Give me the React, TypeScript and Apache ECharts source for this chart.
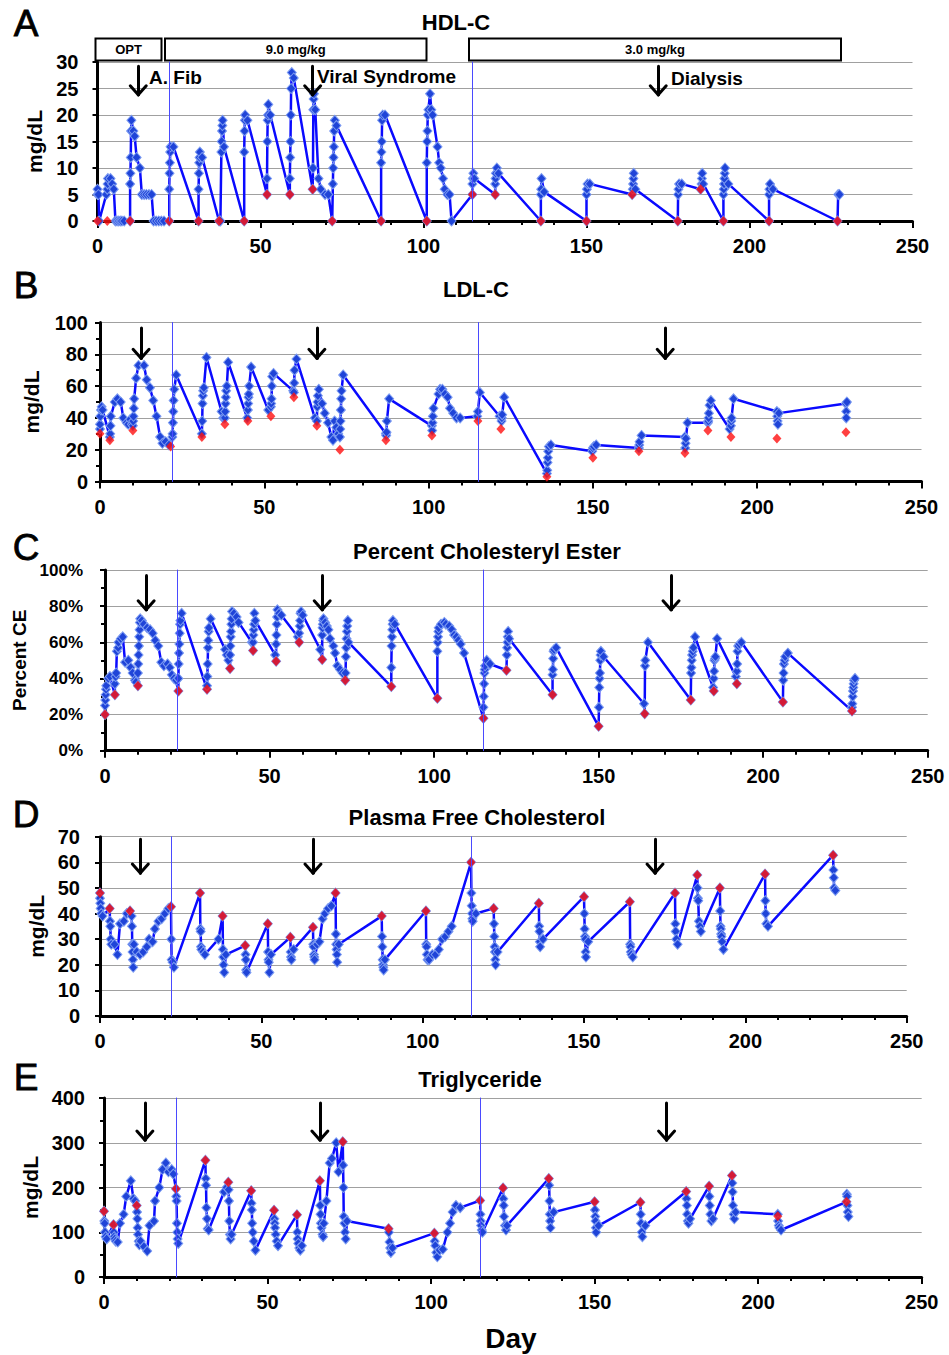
import React, { useEffect, useRef } from "react";
import * as echarts from "echarts";

// ---------- DATA ----------
const doseChangeDays = [22, 115];
const eventArrowDays = [12.5, 66, 172];

// Panel A: HDL-C (mg/dL)
const hdlLine: number[][] = [
  [0, 5], [0, 6], [0.3, 5], [0.5, 0], [2.7, 5], [3, 6], [3.1, 7], [3.2, 8], [4, 8], [4.5, 7], [5, 6], [5.5, 0], [6, 0], [6.5, 0], [7, 0], [7.5, 0], [8.2, 0],
  [10, 0], [10, 7], [10.1, 9], [10.2, 12], [10.3, 17], [10.4, 19], [11, 17], [11.4, 16], [12, 12], [13, 10], [13.6, 5], [14.3, 5], [15, 5], [15.8, 5], [16.6, 5], [17.2, 0], [18, 0], [18.8, 0], [19.6, 0], [20.4, 0],
  [22, 0], [22, 6], [22.1, 9], [22.2, 11], [22.3, 13], [22.4, 14], [23.3, 14],
  [31, 0], [31, 6], [31.1, 9], [31.2, 11], [31.3, 12], [31.4, 13], [32.1, 12],
  [37.3, 0], [37.7, 0], [38, 13], [38.1, 15], [38.2, 17], [38.3, 18], [38.4, 19], [38.8, 14],
  [45, 0], [45, 13], [45.1, 17], [45.2, 19], [45.3, 20], [46, 19],
  [52, 5], [52, 8], [52.1, 15], [52.2, 19], [52.3, 20], [52.4, 22], [53, 20],
  [59, 5], [59, 8], [59.1, 12], [59.2, 15], [59.3, 20], [59.4, 25], [59.6, 28], [60.2, 27],
  [66, 6], [66.1, 10], [66.2, 21], [66.3, 23], [66.4, 24], [66.8, 21], [67.8, 8], [68.5, 6], [69.8, 5], [70.8, 5],
  [72, 0], [72.2, 7], [72.3, 10], [72.4, 12], [72.5, 14], [72.6, 17], [72.8, 19], [73.3, 18],
  [87, 0], [87, 11], [87.1, 13], [87.2, 15], [87.3, 19], [87.5, 20], [88.2, 20],
  [101, 0], [101, 11], [101.1, 15], [101.2, 17], [101.3, 20], [101.5, 21], [102, 24], [102.4, 21], [102.8, 20], [104.3, 14], [104.8, 11], [105.3, 10], [106, 8], [106.5, 6], [107.3, 5], [108, 5], [108.6, 0],
  [115, 5], [115, 7], [115.1, 8], [115.3, 9], [115.6, 8],
  [122, 5], [122, 7], [122.1, 8], [122.2, 9], [122.5, 10], [123, 9],
  [136, 0], [136, 5], [136.1, 6], [136.2, 8], [137, 5.5],
  [150, 0], [150, 5], [150.1, 6], [150.3, 7], [151, 7],
  [164, 5], [164.2, 6], [164.3, 7], [164.4, 8], [164.5, 9], [165, 6],
  [178, 0], [178.1, 5], [178.2, 6], [178.4, 7], [179.2, 7],
  [185, 6], [185.3, 7], [185.4, 8], [185.5, 9], [185.8, 7],
  [192, 0], [192, 5], [192.1, 6], [192.2, 7], [192.3, 8], [192.4, 9], [192.5, 10], [193.5, 7],
  [206, 0], [206, 5], [206.1, 6], [206.3, 7], [207.2, 6],
  [227, 0], [227.2, 5], [227.6, 5],
];
const hdlPredose: number[][] = [
  [0, 0], [3, 0], [10, 0], [22, 0], [31, 0], [37.3, 0], [45, 0], [52, 5], [59, 5], [66, 6], [72, 0], [87, 0], [101, 0],
  [115, 5], [122, 5], [136, 0], [150, 0], [164, 5], [178, 0], [185, 6], [192, 0], [206, 0], [227, 0],
];

// Panel B: LDL-C (mg/dL)
const ldlLine: number[][] = [
  [0, 33], [0, 36], [0.1, 41], [0.3, 45], [0.5, 47], [0.8, 45], [3, 28], [3.1, 30], [3.2, 35], [3.3, 41], [4.5, 50], [5.3, 52], [6.3, 50], [7.1, 40], [8.1, 37], [8.6, 36], [9.2, 39], [9.7, 36],
  [10, 35], [10.1, 38], [10.2, 41], [10.3, 46], [10.4, 52], [11, 65], [11.7, 73], [13.4, 73], [14.2, 64], [15.2, 59], [16.2, 51], [17.2, 41], [18.3, 28], [19, 24], [20, 25], [21, 23],
  [22, 28], [22.1, 30], [22.2, 37], [22.3, 44], [22.4, 51], [22.6, 58], [23.2, 67],
  [31, 30], [31.1, 38], [31.2, 49], [31.3, 54], [31.4, 57], [31.6, 59], [32.4, 78],
  [37, 44], [37.5, 40], [38, 40], [38.1, 44], [38.2, 49], [38.3, 53], [38.4, 57], [38.6, 60], [39, 75],
  [44.8, 40], [45, 45], [45.1, 49], [45.2, 53], [45.3, 55], [45.4, 60], [46, 72],
  [51.2, 45], [52, 47], [52.1, 49], [52.2, 52], [52.3, 60], [52.4, 66], [52.8, 68],
  [58.8, 57], [59, 56], [59.1, 62], [59.2, 70], [59.8, 77],
  [65.4, 40], [66, 38], [66.1, 47], [66.2, 50], [66.3, 54], [66.6, 58], [67.6, 49], [68.4, 43], [69.4, 37], [70.4, 28], [70.9, 26], [71.4, 38], [71.9, 34], [72.5, 30],
  [73, 28], [73.1, 33], [73.2, 38], [73.3, 45], [73.4, 52], [73.5, 57], [74, 67],
  [87, 30], [87.1, 29], [87.2, 31], [87.3, 38], [88, 52],
  [101, 35], [101.1, 32], [101.2, 37], [101.3, 41], [101.5, 46], [103, 55], [103.5, 58], [104.2, 58], [105, 55], [105.8, 53], [106.5, 46], [107.5, 43], [108.5, 40], [109.6, 40],
  [114.8, 41], [115, 44], [115.6, 56],
  [121.6, 41], [122.2, 38], [122.3, 40], [122.4, 42], [123, 53],
  [136, 5], [136.1, 7], [136.2, 12], [136.3, 15], [136.4, 19], [136.6, 22], [137.2, 23],
  [149.8, 19], [150, 21], [150.3, 22], [151, 23],
  [164, 21], [164.1, 23], [164.2, 25], [164.8, 29],
  [178, 28], [178.1, 21], [178.2, 24], [178.3, 27], [178.8, 37],
  [185, 37], [185.1, 38], [185.2, 40], [185.3, 43], [185.5, 48], [185.9, 51],
  [191.6, 33], [192, 35], [192.1, 38], [192.2, 40], [192.8, 52],
  [206, 44], [206.1, 41], [206.2, 38], [206.3, 36], [206.6, 43],
  [227, 49], [227.3, 50], [227.1, 44], [227.1, 40],
];
const ldlPredose: number[][] = [
  [0, 30], [3, 26], [10, 32], [21.5, 22], [31, 28], [38, 36], [45, 38], [52, 41], [59, 53], [66, 35], [73, 20], [87, 26], [101, 29],
  [115, 38], [122, 33], [136, 3], [150, 15], [164, 19], [178, 18], [185, 32], [192, 28], [206, 27], [227, 31],
];

// Panel C: Percent cholesteryl ester (%)
const ceLine: number[][] = [
  [0, 20], [0, 25], [0.1, 28], [0.2, 31], [0.3, 34], [0.4, 36], [1, 40], [1.5, 41],
  [3, 31], [3, 37], [3.2, 41], [3.4, 43], [3.6, 55], [4, 57], [4.1, 60], [4.8, 62], [5.4, 63], [6.1, 49], [7.1, 50], [7.8, 46], [8.4, 43], [9.1, 39], [9.4, 38],
  [10, 36], [10, 43], [10.1, 48], [10.2, 53], [10.3, 58], [10.4, 63], [10.5, 67], [10.6, 71], [10.7, 73], [11.2, 72], [11.8, 70], [12.8, 68], [13.7, 67], [14.5, 65], [15.3, 61], [16.2, 58], [17.1, 49], [17.9, 47], [19, 48], [19.7, 46], [20.3, 42], [21, 40], [21.6, 39],
  [22.3, 33], [22.3, 40], [22.4, 48], [22.5, 54], [22.6, 59], [22.7, 65], [22.8, 70], [22.9, 72], [23.3, 76],
  [31, 34], [31, 36], [31.1, 41], [31.2, 48], [31.3, 57], [31.4, 61], [31.5, 66], [31.6, 68], [32.1, 73],
  [36.5, 56], [37, 53], [37.5, 50], [38, 45.5], [38, 53], [38.1, 58], [38.2, 63], [38.3, 66], [38.4, 70], [38.5, 73], [38.6, 77], [39.2, 76], [40, 74], [40.6, 71],
  [44.6, 60], [45, 55.5], [45, 60], [45.1, 64], [45.2, 67], [45.3, 70], [45.4, 76], [45.7, 72],
  [51.7, 53], [52, 49.5], [52, 59], [52.1, 64], [52.2, 70], [52.3, 74], [52.4, 78], [52.9, 76], [53.6, 75],
  [58.6, 63], [59, 60], [59, 65], [59.2, 69], [59.3, 72], [59.4, 76], [59.6, 77], [60.1, 75],
  [65.4, 56], [66, 50.5], [66, 64], [66.1, 68], [66.2, 70], [66.3, 72], [66.4, 73], [66.9, 71], [67.4, 69], [67.9, 67], [68.4, 62], [69.4, 58], [69.9, 54], [70.6, 47], [71.4, 45], [72.2, 43],
  [73, 39], [73.1, 43], [73.2, 52], [73.3, 57], [73.4, 62], [73.5, 66], [73.6, 69], [73.8, 72], [74, 60],
  [87, 35.5], [87, 46], [87.1, 58], [87.2, 63], [87.3, 67], [87.4, 70], [87.5, 72], [88.1, 70],
  [101, 29], [101, 55], [101.1, 60], [101.2, 63], [101.3, 66], [101.4, 68], [102.1, 70], [103.1, 71], [103.6, 70], [104.6, 69], [105.4, 67], [106.1, 64], [106.8, 63], [107.4, 61], [108.1, 59], [109.1, 54],
  [115, 18], [115, 24], [115.1, 30], [115.2, 37], [115.3, 43], [115.4, 45], [115.5, 47], [116, 50], [117, 48],
  [122, 44.5], [122.1, 53], [122.2, 57], [122.3, 60], [122.4, 63], [122.5, 66], [122.8, 62],
  [136, 31], [136, 42], [136.1, 45], [136.2, 51], [136.3, 55], [136.5, 56], [137.1, 57],
  [150, 13.5], [150.1, 24], [150.2, 35], [150.3, 40], [150.4, 43], [150.5, 50], [150.6, 53], [150.7, 55], [151.5, 52],
  [163.8, 26], [164, 20.5], [164.1, 47], [164.2, 50], [165, 60],
  [178, 28], [178.1, 43], [178.2, 46], [178.3, 50], [178.4, 53], [178.6, 55], [178.8, 57], [179.3, 63],
  [184.8, 35], [185, 33], [185, 40], [185.1, 44], [185.2, 50], [185.4, 51], [185.5, 52], [186, 62],
  [191.7, 41], [192, 37], [192, 44], [192.1, 48], [192.2, 55], [192.4, 58], [192.8, 59], [193.4, 60],
  [206, 27], [206.1, 39], [206.2, 43], [206.3, 48], [206.5, 50], [206.7, 52], [207.5, 54],
  [227, 22], [227, 24], [227.1, 26], [227.2, 30], [227.3, 33], [227.4, 35], [227.5, 37], [227.6, 39], [227.9, 40],
];
const cePredose: number[][] = [
  [0, 20], [3, 31], [10, 36], [22.3, 33], [31, 34], [38, 45.5], [45, 55.5], [52, 49.5], [59, 60], [66, 50.5], [73, 39], [87, 35.5], [101, 29],
  [115, 18], [122, 44.5], [136, 31], [150, 13.5], [164, 20.5], [178, 28], [185, 33], [192, 37], [206, 27], [227, 22],
];

// Panel D: Plasma free cholesterol (mg/dL)
const fcLine: number[][] = [
  [0, 48], [0, 46], [0.1, 44], [0.2, 42], [0.4, 40], [0.8, 39], [3, 42], [3.1, 37], [3.2, 35], [3.3, 30], [3.5, 28], [4.5, 28], [5.4, 24], [6.2, 36], [7.4, 37], [8.3, 40],
  [9.3, 41], [9.8, 39], [9.9, 35], [10, 28], [10.1, 25], [10.2, 22], [10.3, 19], [10.5, 28], [11.4, 25], [12.4, 24], [13.4, 25], [14.5, 27], [15.2, 30], [16.3, 29], [17, 34], [18.1, 37], [19.1, 38], [20.1, 40], [21.2, 42],
  [22, 42.7], [22.1, 30], [22.2, 22], [22.5, 21], [22.9, 19],
  [31, 48], [31.1, 34], [31.2, 33], [31.3, 27], [31.4, 26], [32, 25], [32.5, 24], [36.7, 30],
  [38, 39], [38.1, 26], [38.2, 23], [38.3, 20], [38.5, 17], [39, 24],
  [45, 27.5], [45.1, 24], [45.2, 22], [45.3, 18], [45.4, 17],
  [52, 36], [52.1, 25], [52.2, 22], [52.3, 21], [52.5, 17], [53, 24],
  [59, 30.7], [59.1, 25], [59.2, 23], [59.3, 22], [60, 26],
  [66, 34.6], [66.1, 28], [66.2, 27], [66.3, 24], [66.4, 23], [66.5, 22], [67.3, 28], [68, 29], [69, 38], [69.7, 40], [70.7, 42], [71.7, 43],
  [73, 48], [73.1, 32], [73.2, 28], [73.3, 26], [73.4, 24], [73.5, 21], [74, 28],
  [87.3, 39], [87.4, 31], [87.5, 27], [87.6, 22], [87.7, 20], [87.8, 19], [87.9, 18], [88.3, 22],
  [101, 41], [101.1, 28], [101.2, 27], [101.3, 24], [101.5, 22], [102, 22], [103, 24], [104, 24], [105, 26], [106, 30], [107, 31], [108, 33], [109, 35],
  [115, 60], [115.1, 48], [115.2, 43], [115.3, 40], [115.4, 38], [115.5, 37], [116.5, 40],
  [122, 42], [122.1, 36], [122.2, 31], [122.3, 27], [122.4, 25], [122.5, 22], [122.6, 20], [123.2, 25],
  [136, 44], [136.1, 35], [136.2, 33], [136.3, 29], [136.4, 27], [137.3, 30],
  [150, 46.6], [150.1, 40], [150.2, 34], [150.3, 31], [150.4, 30], [150.5, 25], [150.6, 23], [151.3, 29],
  [164.2, 44.6], [164.3, 28], [164.4, 27], [164.5, 25], [164.7, 24], [165.1, 23],
  [178.2, 48], [178.3, 36], [178.4, 33], [178.6, 30], [179, 28],
  [185.1, 55], [185.2, 50], [185.3, 46], [185.4, 45], [185.6, 37], [185.9, 35], [186.2, 33],
  [192.1, 50], [192.2, 41], [192.3, 35], [192.4, 34], [192.5, 32], [192.6, 31], [192.8, 29], [193.2, 26],
  [206.1, 55.4], [206.2, 45], [206.3, 40], [206.5, 36], [207, 35],
  [227.2, 62.8], [227.3, 57], [227.4, 54], [227.5, 50], [227.9, 49],
];
const fcPredose: number[][] = [
  [0, 48], [3, 42], [9.3, 41], [22, 42.7], [31, 48], [38, 39], [45, 27.5], [52, 36], [59, 30.7], [66, 34.6], [73, 48], [87.3, 39], [101, 41],
  [115, 60], [122, 42], [136, 44], [150, 46.6], [164.2, 44.6], [178.2, 48], [185.1, 55], [192.1, 50], [206.1, 55.4], [227.2, 62.8],
];

// Panel E: Triglyceride (mg/dL)
const tgLine: number[][] = [
  [0, 147], [0.1, 125], [0.2, 120], [0.3, 100], [0.5, 90], [0.8, 85], [2.9, 117], [3, 100], [3.1, 90], [3.3, 85], [3.6, 80], [4.2, 78], [4.9, 120], [6, 140], [6.8, 180], [8.2, 215], [9, 175], [9.5, 170],
  [10, 160], [10.1, 145], [10.2, 130], [10.3, 110], [10.4, 95], [10.6, 80], [10.8, 72], [11.2, 80], [12.2, 68], [13.2, 58], [13.9, 115], [15.3, 125], [15.6, 170], [16.9, 200], [17.9, 240], [18.9, 255], [19.7, 235], [20.7, 240], [21.2, 230],
  [22, 197], [22.1, 180], [22.2, 170], [22.3, 120], [22.4, 100], [22.5, 85], [22.7, 75],
  [31, 261], [31.1, 220], [31.2, 205], [31.3, 155], [31.5, 130], [31.7, 108], [32, 105],
  [36.7, 190], [37.5, 200], [38, 212], [38.1, 195], [38.2, 170], [38.3, 125], [38.5, 95], [38.7, 85], [39, 95],
  [45, 193], [45.1, 165], [45.2, 150], [45.3, 120], [45.5, 100], [45.8, 80], [46.3, 60],
  [52, 149], [52.1, 130], [52.2, 120], [52.3, 110], [52.5, 95], [52.8, 80], [53.2, 70],
  [59, 139], [59.1, 100], [59.2, 85], [59.4, 75], [59.7, 65], [60, 60], [60.5, 70],
  [66, 215], [66.1, 160], [66.2, 140], [66.3, 120], [66.5, 110], [66.8, 95], [67, 90], [67.2, 120], [68, 170], [69, 255], [69.7, 265], [71, 300], [71.7, 235],
  [73, 302], [73.1, 250], [73.2, 200], [73.3, 135], [73.5, 120], [73.7, 100], [73.9, 85], [74.3, 125],
  [87, 108], [87.1, 100], [87.3, 78], [87.5, 65], [87.7, 55], [88.2, 65],
  [101, 98], [101.1, 80], [101.3, 70], [101.6, 55], [101.9, 45], [102.6, 60], [103.6, 62], [105, 100], [105.8, 120], [106.6, 145], [107.6, 160], [108.9, 155],
  [115, 171], [115.1, 140], [115.2, 125], [115.3, 115], [115.5, 105], [115.7, 100],
  [122, 199], [122.1, 175], [122.2, 160], [122.3, 135], [122.6, 115], [122.9, 105], [123.2, 115],
  [136, 220], [136.1, 205], [136.2, 170], [136.3, 140], [136.4, 125], [136.5, 110], [137.5, 145],
  [150, 168], [150.1, 150], [150.2, 135], [150.3, 125], [150.4, 110], [150.5, 100], [151.2, 115],
  [164, 167], [164.1, 140], [164.2, 120], [164.4, 100], [164.6, 90], [165.5, 115],
  [178, 191], [178.1, 175], [178.2, 160], [178.3, 140], [178.5, 125], [178.7, 120], [179.2, 130],
  [185, 203], [185.1, 180], [185.2, 160], [185.4, 140], [185.7, 125], [186.2, 130],
  [192, 227], [192.1, 210], [192.2, 190], [192.3, 160], [192.5, 140], [192.7, 130], [193.1, 145],
  [206, 140], [206.1, 125], [206.3, 115], [206.5, 110], [207, 105],
  [227, 168], [227.1, 185], [227.2, 180], [227.3, 160], [227.4, 145], [227.6, 135],
];
const tgPredose: number[][] = [
  [0, 147], [2.9, 117], [10, 160], [22, 197], [31, 261], [38, 212], [45, 193], [52, 149], [59, 139], [66, 215], [73, 302], [87, 108], [101, 98],
  [115, 171], [122, 199], [136, 220], [150, 168], [164, 167], [178, 191], [185, 203], [192, 227], [206, 136], [227, 168],
];

const xTicks = { min: 0, max: 250, interval: 50 };

// ---------- CHART ----------
const FONT = "'Liberation Sans', Arial, Helvetica, sans-serif";

const panels = [
  { letter: "A", title: "HDL-C", line: hdlLine, red: hdlPredose, yMax: 30, yInt: 5, yMinor: 0, yName: "mg/dL", pct: false,
    left: 97.5, top: 62, width: 815, height: 159, titleX: 456, titleY: 22, letterY: 23, nameGap: 45, nameSize: 21, yLabelMargin: 19, yLabelSize: 20, arrowTop: 29.2, arrowTip: 23.8 },
  { letter: "B", title: "LDL-C", line: ldlLine, red: ldlPredose, yMax: 100, yInt: 20, yMinor: 2, yName: "mg/dL", pct: false,
    left: 100, top: 322.5, width: 821.5, height: 159, titleX: 476, titleY: 289, letterY: 285, nameGap: 58, nameSize: 21, yLabelMargin: 12, yLabelSize: 20, arrowTop: 96.5, arrowTip: 77.5 },
  { letter: "C", title: "Percent Cholesteryl Ester", line: ceLine, red: cePredose, yMax: 100, yInt: 20, yMinor: 2, yName: "Percent CE", pct: true,
    left: 105, top: 570, width: 822.7, height: 180.7, titleX: 487, titleY: 551, letterY: 547, nameGap: 64, nameSize: 19, yLabelMargin: 22, yLabelSize: 17, arrowTop: 97, arrowTip: 78 },
  { letter: "D", title: "Plasma Free Cholesterol", line: fcLine, red: fcPredose, yMax: 70, yInt: 10, yMinor: 0, yName: "mg/dL", pct: false,
    left: 100, top: 836.7, width: 806.7, height: 179.3, titleX: 477, titleY: 817, letterY: 814, nameGap: 47, nameSize: 21, yLabelMargin: 20, yLabelSize: 20, arrowTop: 69, arrowTip: 55.8 },
  { letter: "E", title: "Triglyceride", line: tgLine, red: tgPredose, yMax: 400, yInt: 100, yMinor: 2, yName: "mg/dL", pct: false,
    left: 104, top: 1098, width: 817.7, height: 179, titleX: 480, titleY: 1079, letterY: 1077, nameGap: 59, nameSize: 21, yLabelMargin: 19, yLabelSize: 20, arrowTop: 389, arrowTip: 306 },
];

function buildOption() {
  const grid: any[] = [];
  const xAxis: any[] = [];
  const yAxis: any[] = [];
  const series: any[] = [];
  const graphic: any[] = [];

  panels.forEach((p, i) => {
    grid.push({ left: p.left, top: p.top, width: p.width, height: p.height, containLabel: false });
    xAxis.push({
      type: "value", gridIndex: i, min: xTicks.min, max: xTicks.max, interval: xTicks.interval,
      axisLine: { show: true, onZero: false, lineStyle: { color: "#000", width: 3 } },
      axisTick: { show: true, inside: false, length: 7, lineStyle: { color: "#000", width: 2 } },
      minorTick: { show: true, splitNumber: 5, length: 4, lineStyle: { color: "#000", width: 2 } },
      splitLine: { show: false },
      axisLabel: { margin: 15, fontSize: 20, fontWeight: "bold", color: "#000", fontFamily: FONT },
    });
    yAxis.push({
      type: "value", gridIndex: i, min: 0, max: p.yMax, interval: p.yInt,
      name: p.yName, nameLocation: "middle", nameGap: p.nameGap, nameRotate: 90,
      nameTextStyle: { fontSize: p.nameSize, fontWeight: "bold", color: "#000", fontFamily: FONT },
      axisLine: { show: true, onZero: false, lineStyle: { color: "#000", width: 3 } },
      axisTick: { show: true, inside: false, length: 5, lineStyle: { color: "#000", width: 2 } },
      minorTick: { show: p.yMinor > 0, splitNumber: p.yMinor || 2, length: 4, lineStyle: { color: "#000", width: 2 } },
      splitLine: { show: true, lineStyle: { color: "#a0a0a0", width: 1 } },
      axisLabel: {
        margin: p.yLabelMargin, fontSize: p.yLabelSize, fontWeight: "bold", color: "#000", fontFamily: FONT,
        formatter: p.pct ? "{value}%" : "{value}",
      },
    });

    const armDx = 8 / (p.width / 250);
    const armDy = (p.yMax * 9) / p.height;
    const markData: any[] = doseChangeDays.map((d) => ({ xAxis: d, lineStyle: { color: "#4a4aff", width: 1, type: "solid" } }));
    eventArrowDays.forEach((d) => {
      markData.push([{ coord: [d, p.arrowTop] }, { coord: [d, p.arrowTip] }]);
      markData.push([{ coord: [d - armDx, p.arrowTip + armDy] }, { coord: [d, p.arrowTip] }]);
      markData.push([{ coord: [d + armDx, p.arrowTip + armDy] }, { coord: [d, p.arrowTip] }]);
    });

    series.push({
      type: "line", xAxisIndex: i, yAxisIndex: i, data: p.line,
      symbol: "diamond", symbolSize: [9, 10], showAllSymbol: true, smooth: false,
      lineStyle: { color: "#0a0aff", width: 2.5 },
      itemStyle: { color: "#1f44d8", borderColor: "#7d9cf2", borderWidth: 1 },
      z: 3,
      markLine: {
        silent: true, symbol: ["none", "none"], label: { show: false }, animation: false,
        lineStyle: { color: "#000", width: 3, type: "solid", cap: "round" },
        data: markData,
      },
    });
    series.push({
      type: "scatter", xAxisIndex: i, yAxisIndex: i, data: p.red,
      symbol: "diamond", symbolSize: [9, 10],
      itemStyle: { color: "#ff1010" }, z: 4,
    });

    graphic.push({
      type: "text", x: p.titleX, y: p.titleY,
      style: { text: p.title, fontSize: 22, fontWeight: "bold", fontFamily: FONT, fill: "#000", align: "center", verticalAlign: "middle" },
    });
    graphic.push({
      type: "text", x: 26, y: p.letterY,
      style: { text: p.letter, fontSize: 37, fontWeight: "normal", fontFamily: FONT, fill: "#000", align: "center", verticalAlign: "middle", stroke: "#000", lineWidth: 0.8 },
    });
  });

  // Dose boxes for panel A
  const boxes = [
    { x: 95.5, w: 66, label: "OPT" },
    { x: 165, w: 261.5, label: "9.0 mg/kg" },
    { x: 469, w: 372, label: "3.0 mg/kg" },
  ];
  boxes.forEach((b) => {
    graphic.push({ type: "rect", shape: { x: b.x, y: 38.5, width: b.w, height: 22 }, style: { fill: "#fff", stroke: "#000", lineWidth: 2 } });
    graphic.push({
      type: "text", x: b.x + b.w / 2, y: 49.5,
      style: { text: b.label, fontSize: 13, fontWeight: "bold", fontFamily: FONT, fill: "#000", align: "center", verticalAlign: "middle" },
    });
  });
  const notes = [
    { x: 149, y: 77, t: "A. Fib" },
    { x: 317, y: 76, t: "Viral Syndrome" },
    { x: 671, y: 78, t: "Dialysis" },
  ];
  notes.forEach((n) => {
    graphic.push({
      type: "text", x: n.x, y: n.y,
      style: { text: n.t, fontSize: 19, fontWeight: "bold", fontFamily: FONT, fill: "#000", align: "left", verticalAlign: "middle" },
    });
  });
  graphic.push({
    type: "text", x: 511, y: 1338,
    style: { text: "Day", fontSize: 28, fontWeight: "bold", fontFamily: FONT, fill: "#000", align: "center", verticalAlign: "middle" },
  });

  return {
    animation: false,
    backgroundColor: "#fff",
    grid, xAxis, yAxis, series, graphic,
  };
}

export default function App() {
  const ref = useRef<HTMLDivElement>(null);
  useEffect(() => {
    if (!ref.current) return;
    const chart = echarts.init(ref.current, null, { renderer: "svg" });
    chart.setOption(buildOption() as any);
    return () => chart.dispose();
  }, []);
  return (
    <div
      ref={ref}
      style={{ position: "absolute", left: 0, top: 0, width: 949, height: 1355, background: "#fff" }}
    />
  );
}
